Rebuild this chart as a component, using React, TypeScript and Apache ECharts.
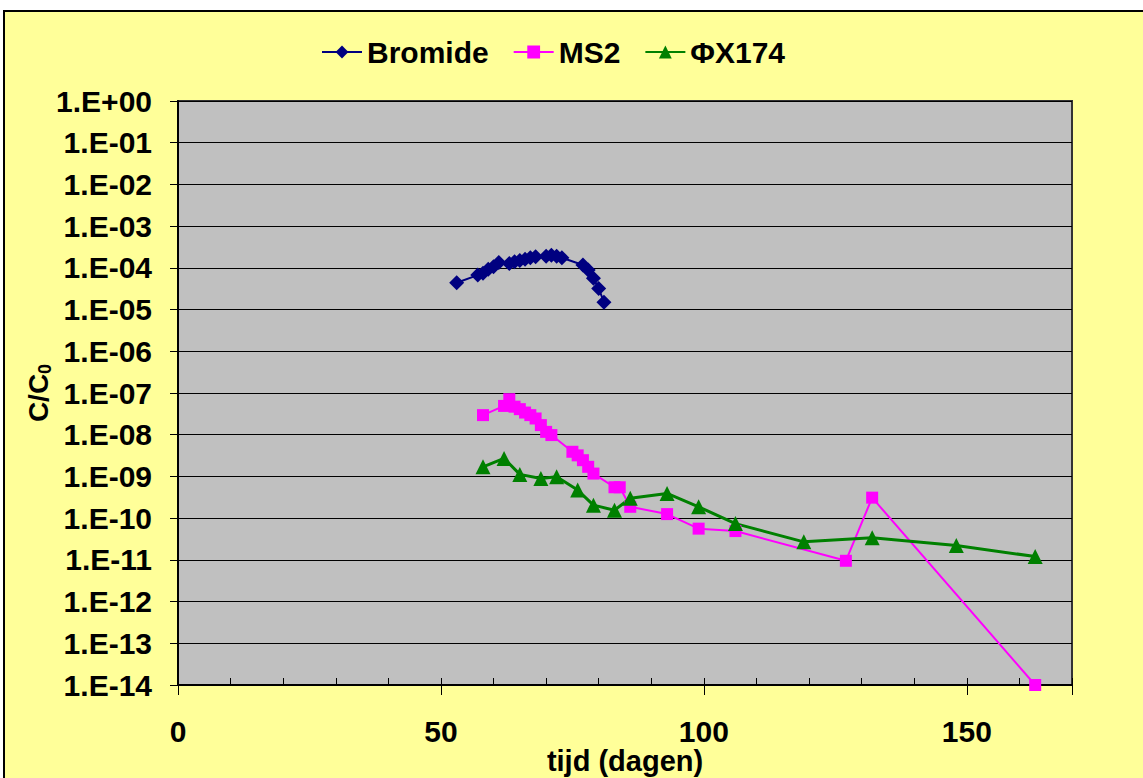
import React, { useEffect, useRef } from "react";
import * as echarts from "echarts";

// Days since start of the injection
const bromideDays = [53, 57, 58, 59, 60, 61, 63, 64, 65, 66, 67, 68, 70, 71, 72, 73, 77, 78, 79, 80, 81];
const bromideConc = [
  4.4e-5, 6.7e-5, 7.4e-5, 9.3e-5, 1.07e-4, 1.35e-4, 1.28e-4, 1.4e-4, 1.5e-4, 1.6e-4, 1.75e-4,
  1.85e-4, 1.9e-4, 2.0e-4, 1.9e-4, 1.75e-4, 1.17e-4, 8.9e-5, 5.6e-5, 3.2e-5, 1.5e-5,
];

const ms2Days = [58, 62, 63, 64, 65, 66, 67, 68, 69, 70, 71, 75, 76, 77, 78, 79, 83, 84, 86, 93, 99, 106, 127, 132, 163];
const ms2Conc = [
  2.95e-8, 4.9e-8, 7.1e-8, 4.7e-8, 4.1e-8, 3.4e-8, 2.95e-8, 2.45e-8, 1.7e-8, 1.17e-8, 9.8e-9,
  3.9e-9, 3.2e-9, 2.45e-9, 1.7e-9, 1.17e-9, 5.5e-10, 5.5e-10, 1.87e-10, 1.25e-10, 5.6e-11,
  4.9e-11, 9.5e-12, 3.1e-10, 1.0e-14,
];

const phiDays = [58, 62, 65, 69, 72, 76, 79, 83, 86, 93, 99, 106, 119, 132, 148, 163];
const phiConc = [
  1.7e-9, 2.7e-9, 1.12e-9, 8.9e-10, 9.8e-10, 4.7e-10, 2.05e-10, 1.55e-10, 3.0e-10, 3.9e-10,
  1.87e-10, 7.4e-11, 2.7e-11, 3.4e-11, 2.2e-11, 1.2e-11,
];

const FONT = "'Liberation Sans', Arial, sans-serif";

const pairs = (xs: number[], ys: number[]) => xs.map((x, i) => [x, ys[i]]);

const expLabel = (v: number) => {
  const e = Math.round(Math.log10(v));
  const sign = e >= 0 ? "+" : "-";
  return `1.E${sign}${String(Math.abs(e)).padStart(2, "0")}`;
};

export default function App() {
  const ref = useRef<HTMLDivElement>(null);

  useEffect(() => {
    if (!ref.current) return;
    const chart = echarts.init(ref.current, null, { renderer: "svg" });
    chart.setOption({
      animation: false,
      backgroundColor: "transparent",
      textStyle: { fontFamily: FONT },
      legend: {
        left: 316,
        top: 32,
        itemWidth: 40,
        itemHeight: 16,
        itemGap: 24,
        textStyle: { fontSize: 30, fontWeight: "bold", color: "#000", fontFamily: FONT },
        data: ["Bromide", "MS2", "ΦX174"],
      },
      grid: {
        left: 178,
        top: 101,
        right: 71,
        bottom: 93,
        outerBoundsMode: "none",
        containLabel: false,
        show: true,
        backgroundColor: "#C0C0C0",
        borderColor: "#333",
        borderWidth: 2,
      },
      xAxis: [
        {
          type: "value",
          min: 0,
          max: 170,
          interval: 50,
          name: "tijd (dagen)",
          nameLocation: "middle",
          nameGap: 61,
          nameMoveOverlap: false,
          nameTextStyle: { fontSize: 29, fontWeight: "bold", color: "#000", fontFamily: FONT },
          axisLine: { show: true, onZero: false, lineStyle: { color: "#000", width: 2 } },
          axisTick: { show: true, inside: false, length: 10, lineStyle: { color: "#000" } },
          axisLabel: {
            margin: 31,
            fontSize: 30,
            fontWeight: "bold",
            color: "#000",
            fontFamily: FONT,
            formatter: (v: number) => (v > 160 ? "" : String(v)),
          },
          splitLine: { show: false },
        },
        {
          type: "value",
          min: 0,
          max: 170,
          interval: 10,
          position: "bottom",
          axisLine: { show: false },
          axisTick: { show: true, inside: true, length: 7, lineStyle: { color: "#000" } },
          axisLabel: { show: false },
          splitLine: { show: false },
        },
      ],
      yAxis: {
        type: "log",
        logBase: 10,
        min: 1e-14,
        max: 1,
        interval: 1,
        name: "{a|C/C}{b|0}",
        nameLocation: "middle",
        nameRotate: 90,
        nameGap: 124,
        nameMoveOverlap: false,
        nameTextStyle: {
          rich: {
            a: { fontSize: 28, fontWeight: "bold", color: "#000", fontFamily: FONT },
            b: {
              fontSize: 18,
              fontWeight: "bold",
              color: "#000",
              fontFamily: FONT,
              padding: [14, 0, 0, 0],
            },
          },
        },
        axisLine: { show: true, lineStyle: { color: "#000", width: 2 } },
        axisTick: { show: true, inside: false, length: 8, lineStyle: { color: "#000" } },
        axisLabel: {
          margin: 26,
          fontSize: 30,
          fontWeight: "bold",
          color: "#000",
          fontFamily: FONT,
          formatter: expLabel,
        },
        splitLine: { show: true, lineStyle: { color: "#000", width: 1 } },
      },
      series: [
        {
          name: "Bromide",
          type: "line",
          data: pairs(bromideDays, bromideConc),
          symbol: "diamond",
          symbolSize: 15,
          itemStyle: { color: "#000080" },
          lineStyle: { color: "#000080", width: 2 },
        },
        {
          name: "MS2",
          type: "line",
          data: pairs(ms2Days, ms2Conc),
          symbol: "rect",
          symbolSize: 12,
          itemStyle: { color: "#FF00FF" },
          lineStyle: { color: "#FF00FF", width: 2 },
        },
        {
          name: "ΦX174",
          type: "line",
          data: pairs(phiDays, phiConc),
          symbol: "triangle",
          symbolSize: 15,
          itemStyle: { color: "#008000" },
          lineStyle: { color: "#008000", width: 3 },
        },
      ],
    });
    return () => chart.dispose();
  }, []);

  return (
    <div
      style={{
        position: "fixed",
        left: 0,
        top: 0,
        width: 1143,
        height: 778,
        background: "#fff",
        overflow: "hidden",
      }}
    >
      <div
        style={{
          position: "absolute",
          left: 3,
          top: 10,
          width: 1200,
          height: 800,
          background: "#FFFF99",
          border: "2px solid #000",
        }}
      />
      <div ref={ref} style={{ position: "absolute", left: 0, top: 0, width: 1143, height: 778 }} />
    </div>
  );
}
